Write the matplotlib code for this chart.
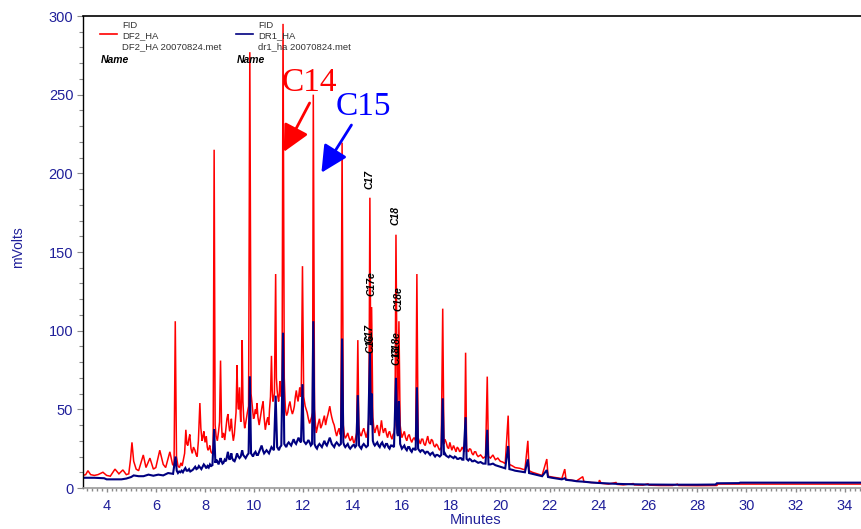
import matplotlib
matplotlib.use("Agg")
import matplotlib.pyplot as plt
from matplotlib.ticker import MultipleLocator
from matplotlib.lines import Line2D

plt.rcParams['font.family'] = ['Liberation Sans', 'DejaVu Sans']

# ---- chromatogram traces (retention time in minutes, signal in mV) ----
# DF2_HA (red)
red_t = [3.04, 3.15, 3.24, 3.35, 3.5, 3.65, 3.85, 4.0, 4.15, 4.34, 4.5, 4.66, 4.8, 4.9, 4.97,
         5.03, 5.1, 5.2, 5.3, 5.49, 5.6, 5.76, 5.9, 6.0, 6.16, 6.3, 6.4, 6.57, 6.68, 6.74,
         6.79, 6.84, 6.9, 6.96, 7.02, 7.07, 7.12, 7.17, 7.22, 7.26, 7.3, 7.34, 7.38, 7.43,
         7.48, 7.53, 7.59, 7.64, 7.68, 7.73, 7.79, 7.83, 7.88, 7.92, 7.95, 8.0, 8.05, 8.09,
         8.12, 8.16, 8.19, 8.24, 8.28, 8.33, 8.37, 8.41, 8.45, 8.5, 8.55, 8.59, 8.63, 8.67,
         8.7, 8.75, 8.8, 8.85, 8.89, 8.93, 8.97, 9.0, 9.04, 9.07, 9.11, 9.15, 9.19, 9.22,
         9.26, 9.30, 9.33, 9.36, 9.40, 9.43, 9.45, 9.48, 9.51, 9.54, 9.57, 9.61, 9.65, 9.69,
         9.72, 9.77, 9.82, 9.87, 9.9, 9.93, 9.97, 10.0, 10.04, 10.08, 10.11, 10.15, 10.2,
         10.24, 10.28, 10.32, 10.36, 10.4, 10.45, 10.5, 10.55, 10.59, 10.62, 10.66, 10.70,
         10.73, 10.76, 10.79, 10.82, 10.87, 10.9, 10.93, 10.96, 10.99, 11.02, 11.04, 11.07,
         11.1, 11.13, 11.17, 11.22, 11.25, 11.27, 11.31, 11.36, 11.4, 11.45, 11.5, 11.55,
         11.59, 11.63, 11.67, 11.71, 11.74, 11.78, 11.82, 11.85, 11.88, 11.91, 11.96, 12.01,
         12.04, 12.07, 12.11, 12.15, 12.2, 12.25, 12.29, 12.33, 12.37, 12.40, 12.45, 12.48,
         12.52, 12.56, 12.6, 12.65, 12.7, 12.75, 12.8, 12.85, 12.9, 12.95, 13.0, 13.04, 13.07,
         13.11, 13.15, 13.2, 13.25, 13.3, 13.35, 13.4, 13.45, 13.49, 13.52, 13.57, 13.62,
         13.66, 13.7, 13.75, 13.8, 13.85, 13.9, 13.94, 13.98, 14.02, 14.05, 14.09, 14.12,
         14.16, 14.21, 14.25, 14.27, 14.31, 14.35, 14.4, 14.45, 14.5, 14.55, 14.58, 14.62,
         14.66, 14.70, 14.74, 14.77, 14.82, 14.86, 14.9, 14.95, 15.0, 15.04, 15.08, 15.12,
         15.17, 15.21, 15.25, 15.29, 15.33, 15.38, 15.42, 15.46, 15.5, 15.55, 15.6, 15.64,
         15.68, 15.72, 15.76, 15.81, 15.84, 15.88, 15.93, 15.97, 16.0, 16.05, 16.1, 16.15,
         16.2, 16.25, 16.3, 16.35, 16.4, 16.45, 16.5, 16.56, 16.61, 16.66, 16.7, 16.75, 16.8,
         16.85, 16.9, 16.95, 17.0, 17.05, 17.1, 17.15, 17.2, 17.25, 17.3, 17.35, 17.4, 17.45,
         17.5, 17.54, 17.60, 17.66, 17.71, 17.75, 17.8, 17.85, 17.9, 17.95, 18.03, 18.1, 18.15,
         18.2, 18.25, 18.3, 18.35, 18.4, 18.45, 18.5, 18.55, 18.59, 18.63, 18.7, 18.75, 18.8,
         18.85, 18.9, 18.95, 19.0, 19.05, 19.1, 19.2, 19.3, 19.4, 19.47, 19.52, 19.6, 19.7,
         19.8, 19.9, 20.0, 20.1, 20.2, 20.32, 20.37, 20.5, 20.6, 20.8, 21.0, 21.12, 21.17,
         21.3, 21.5, 21.7, 21.89, 21.94, 22.1, 22.3, 22.5, 22.62, 22.67, 22.9, 23.1, 23.35,
         23.4, 23.7, 24.0, 24.03, 24.1, 24.4, 24.7, 24.75, 25.0, 25.4, 25.45, 25.8, 26.0,
         26.05, 26.5, 27.0, 27.2, 27.25, 27.8, 28.0, 28.8, 28.85, 29.7, 34.66]
red_mv = [8.0, 8.5, 11, 8.5, 8, 8.5, 10, 8, 7.5, 12, 9, 11.5, 8.5, 9, 18,
          29, 17, 12, 11, 21, 13, 19, 12, 13, 24, 15, 13, 23, 15, 14,
          106, 20, 14, 13, 16, 14, 18, 22, 37, 28, 27, 31, 34, 25,
          22, 26, 24, 21, 20, 30, 54, 38, 30, 33, 36, 29, 33, 26,
          24, 25, 27, 23, 22, 24, 215, 40, 33, 30, 36, 42, 81, 40,
          32, 35, 30.5, 38, 44, 47, 40, 36, 39, 44, 35, 30, 34, 40,
          48, 78, 55, 50, 64, 48, 42, 55, 94, 55, 45, 38, 41, 45,
          48, 52, 277, 60, 55, 50, 44, 45, 50, 47, 54, 45, 40,
          44, 48, 52, 55, 45, 37, 42, 45, 40, 50, 58, 84,
          62, 55, 57, 60, 136, 70, 62, 58, 55, 60, 68, 64,
          58, 62, 295, 70, 56, 50, 46, 48, 52, 55, 50, 47,
          49, 52, 58, 62, 58, 55, 60, 64, 58, 60, 141, 58,
          55, 52, 50, 48, 44, 41, 43, 45, 48, 250, 50, 42,
          35, 38, 41, 44, 38, 40, 43, 46, 40, 44, 47, 50, 52,
          48, 45, 42, 40, 36, 33, 36, 38, 34, 35, 219.5, 40,
          34, 31.6, 33, 35, 32, 30, 31, 33, 30, 28.6, 30, 32,
          35, 94, 40, 36, 34, 33, 36, 38, 35, 32, 34, 37,
          45, 184.5, 60, 115, 45, 38, 35, 38, 40, 36, 33, 37,
          43, 38, 35, 37, 38, 34, 32, 35, 36, 33, 31, 34,
          35, 40, 161, 55, 50, 106, 40, 35, 32, 34, 36, 32,
          30, 33, 34, 31, 29, 31, 32, 30, 136, 32, 30, 28, 31,
          31, 28, 27, 30, 33, 29, 28, 31, 30, 27, 26, 28, 27,
          25, 24, 26, 114, 28, 31, 29, 26, 25, 29, 24, 27, 25,
          23, 26, 25, 23, 24, 26, 24.5, 23, 86, 25, 23, 25, 24.5,
          22, 21, 23, 23, 21, 20, 21, 19, 20, 70.8, 20, 19, 21,
          18, 19, 17, 16.5, 15.5, 46, 15, 14, 13, 12.5, 11.5, 30, 11,
          10, 9, 8, 18.4, 7.5, 7, 6.5, 6, 12, 5.5, 5, 4.5, 7.2,
          4, 3.5, 3.3, 5, 3, 2.5, 3.5, 2.3, 2, 2.8, 2, 1.8, 2.6,
          1.8, 1.6, 1.6, 2.4, 1.6, 1.5, 1.5, 1.6, 2.5, 2.5, 2.5]

# DR1_HA (navy)
blue_t = [3.04, 3.5, 3.9, 4.0, 4.6, 4.8, 5.0, 5.1, 5.3, 5.5, 5.7, 5.9, 6.1, 6.3, 6.5, 6.7,
          6.8, 6.85, 6.9, 6.95, 7.0, 7.05, 7.1, 7.15, 7.2, 7.25, 7.3, 7.35, 7.4, 7.45, 7.5,
          7.55, 7.6, 7.65, 7.7, 7.75, 7.8, 7.85, 7.9, 7.95, 8.0, 8.05, 8.1, 8.15, 8.2, 8.25,
          8.3, 8.37, 8.42, 8.46, 8.5, 8.55, 8.59, 8.63, 8.67, 8.71, 8.75, 8.8, 8.85, 8.89,
          8.93, 8.97, 9.0, 9.04, 9.07, 9.1, 9.15, 9.2, 9.25, 9.30, 9.35, 9.4, 9.45, 9.51,
          9.55, 9.6, 9.65, 9.72, 9.77, 9.82, 9.87, 9.91, 9.95, 10.0, 10.05, 10.1, 10.15, 10.2,
          10.25, 10.3, 10.35, 10.4, 10.45, 10.5, 10.55, 10.6, 10.65, 10.7, 10.75, 10.8, 10.87,
          10.93, 10.97, 11.0, 11.05, 11.1, 11.17, 11.22, 11.26, 11.3, 11.35, 11.4, 11.45, 11.5,
          11.55, 11.6, 11.65, 11.7, 11.75, 11.8, 11.85, 11.9, 11.96, 12.01, 12.05, 12.1, 12.15,
          12.2, 12.25, 12.3, 12.35, 12.40, 12.45, 12.5, 12.55, 12.6, 12.65, 12.7, 12.75, 12.8,
          12.85, 12.9, 12.95, 13.0, 13.07, 13.11, 13.15, 13.2, 13.25, 13.3, 13.35, 13.4, 13.45,
          13.52, 13.57, 13.62, 13.66, 13.7, 13.75, 13.8, 13.85, 13.9, 13.95, 14.0, 14.05, 14.1,
          14.15, 14.21, 14.26, 14.3, 14.35, 14.4, 14.45, 14.5, 14.55, 14.62, 14.70, 14.74,
          14.77, 14.82, 14.86, 14.9, 14.95, 15.0, 15.05, 15.1, 15.15, 15.2, 15.25, 15.3, 15.35,
          15.4, 15.45, 15.5, 15.55, 15.6, 15.68, 15.76, 15.81, 15.84, 15.88, 15.93, 16.0, 16.05,
          16.1, 16.15, 16.2, 16.25, 16.3, 16.35, 16.4, 16.45, 16.5, 16.56, 16.61, 16.66, 16.7,
          16.75, 16.8, 16.85, 16.9, 16.95, 17.0, 17.05, 17.1, 17.15, 17.2, 17.25, 17.3, 17.35,
          17.4, 17.45, 17.54, 17.6, 17.66, 17.71, 17.75, 17.8, 17.85, 17.9, 17.95, 18.0, 18.05,
          18.1, 18.15, 18.2, 18.25, 18.3, 18.35, 18.4, 18.45, 18.5, 18.59, 18.63, 18.7, 18.75,
          18.8, 18.85, 18.9, 18.95, 19.0, 19.1, 19.2, 19.3, 19.4, 19.47, 19.52, 19.6, 19.7, 19.8,
          19.9, 20.0, 20.1, 20.2, 20.32, 20.37, 20.5, 20.6, 20.8, 21.0, 21.12, 21.17, 21.3,
          21.5, 21.7, 21.89, 21.94, 22.1, 22.3, 22.5, 22.62, 22.67, 22.9, 23.1, 23.4, 23.7,
          24.0, 24.5, 25.0, 26.0, 27.0, 28.0, 28.75, 28.8, 29.7, 29.75, 34.66]
blue_mv = [6.5, 6.5, 6.2, 5.5, 5.5, 6, 7, 8, 7.5, 7.5, 8.5, 7.8, 8.5, 8, 9.5, 9,
           20, 11, 9.5, 10.5, 10, 11, 10, 11.5, 12.7, 11, 11, 12, 10.5, 11, 11.5,
           12.5, 13.5, 12, 12.5, 14, 13, 12, 13.5, 15, 14, 12.5, 14, 13, 15, 14,
           14.5, 37.5, 16, 18, 17, 15, 17, 19, 17, 15.5, 16, 18, 17, 20,
           23, 19, 18, 20, 22, 19, 17.5, 17, 19, 22, 20, 19, 20, 24,
           21, 20, 19, 21, 22, 71, 22, 21, 20, 22, 23, 21, 21, 23,
           25, 27, 24, 22, 23, 24, 23, 22, 24, 26, 25, 24, 58.7,
           26, 25, 24, 26, 27, 98.7, 28, 27, 26, 28, 29, 28, 27,
           29, 31, 29, 28, 30, 32, 30, 29, 66, 30, 29, 28, 29,
           30.5, 29, 27, 28, 106, 28, 26, 25, 27, 28, 27, 26, 28,
           30, 28, 27, 29, 32, 30, 28, 27, 26, 28, 29, 28, 27,
           28, 95, 29, 27, 26, 27, 28, 26, 25, 26, 27, 27.5, 26,
           27, 59, 27, 26, 25, 27, 28, 27, 26, 27, 86, 40,
           60, 30, 28, 27, 28, 29, 27, 26, 28, 29, 27, 26, 28,
           28, 26, 25, 27, 27, 26, 70, 35, 33, 55, 28, 25, 26,
           27, 25, 24, 26, 26, 24, 23, 25, 25, 24, 64, 25, 24,
           23, 24, 24, 23, 22, 23, 23, 22, 21, 22, 22.5, 21, 20,
           21, 21, 20, 21, 57, 21, 22, 20.5, 20, 19.5, 20.5, 20, 19.5,
           19, 20, 19.5, 18.5, 18.5, 19, 19, 18, 18, 45, 18.5, 17.5, 18.5,
           18, 17, 17, 17.5, 17, 16, 16.5, 15.5, 15.5, 37, 15, 15, 15.5, 14.5,
           14, 13.5, 13, 12.5, 26.7, 12, 11.5, 11, 10.5, 10, 18.2, 9.5, 9,
           8.3, 7.5, 11.4, 7, 6.5, 6, 5.5, 6.2, 5.2, 4.8, 4.3, 4, 3.5,
           3.2, 2.8, 2.5, 2.2, 2.1, 2.1, 2.2, 3, 3.1, 3.4, 3.4]

# ---- axis ticks ----
x_major = [4, 6, 8, 10, 12, 14, 16, 18, 20, 22, 24, 26, 28, 30, 32, 34]
y_major = [0, 50, 100, 150, 200, 250, 300]

# ---- peak annotations ----
peak_labels = ["C17", "C18", "C17e", "C18e", "C17", "C16", "C18e", "C18"]
peak_label_t = [14.69, 15.75, 14.77, 15.87, 14.70, 14.72, 15.78, 15.80]
peak_label_mv = [195.8, 172.9, 129.7, 120.1, 98.5, 92, 92, 84]

W, H = 861, 529
NAVY = '#20209a'

fig = plt.figure(figsize=(W / 100, H / 100), dpi=100)
ax = fig.add_axes([83 / W, 1 - 488 / H, (W - 83) / W, (488 - 16) / H])

ax.plot(red_t, red_mv, color='#ff0000', lw=1.1, solid_joinstyle='miter')
ax.plot(blue_t, blue_mv, color='#000080', lw=1.5, solid_joinstyle='miter')

ax.set_xlim(3.04, 34.66)
ax.set_ylim(0, 300)

ax.xaxis.set_major_locator(MultipleLocator(2))
ax.xaxis.set_minor_locator(MultipleLocator(0.2))
ax.yaxis.set_major_locator(MultipleLocator(50))
ax.yaxis.set_minor_locator(MultipleLocator(10))
ax.set_xticks(x_major)
ax.set_yticks(y_major)

ax.tick_params(axis='both', which='both', direction='out', colors='#8a8a8a',
               labelcolor=NAVY, labelsize=10.5)
ax.tick_params(axis='y', which='major', length=4, width=0.8, pad=3)
ax.tick_params(axis='y', which='minor', length=3, width=0.8)
ax.tick_params(axis='x', which='major', length=3, width=1.0, pad=5)
ax.tick_params(axis='x', which='minor', length=2, width=1.0)

ax.spines['right'].set_visible(False)
ax.spines['top'].set_color('black')
ax.spines['top'].set_linewidth(1.2)
ax.spines['left'].set_color('black')
ax.spines['left'].set_linewidth(1.0)
ax.spines['bottom'].set_color('#9a9a9a')
ax.spines['bottom'].set_linewidth(1.2)

fig.text(18 / W, 1 - 247 / H, 'mVolts', rotation=90, color=NAVY, fontsize=10,
         ha='center', va='center')
fig.text(476 / W, 1 - 520 / H, 'Minutes', color=NAVY, fontsize=10.5,
         ha='center', va='center')

# trace legend blocks in the upper left
for x0, col, lines in [(100, '#ff0000', ['FID', 'DF2_HA', 'DF2_HA 20070824.met']),
                       (236, '#000080', ['FID', 'DR1_HA', 'dr1_ha 20070824.met'])]:
    fig.add_artist(Line2D([x0 / W, (x0 + 17) / W], [1 - 34 / H, 1 - 34 / H],
                          color=col, lw=1.2))
    for i, s in enumerate(lines):
        fig.text((x0 + 22) / W, 1 - (25 + 11 * i) / H, s, fontsize=6.8,
                 color='#333333', ha='left', va='center')
    fig.text((x0 + 1) / W, 1 - 60 / H, 'Name', fontsize=7.5, fontweight='bold',
             fontstyle='italic', color='black', ha='left', va='center')

# rotated peak names
for name, t, v in zip(peak_labels, peak_label_t, peak_label_mv):
    ax.text(t, v, name, rotation=90, fontsize=7.5, fontweight='bold',
            fontstyle='italic', color='black', ha='center', va='center')

# highlighted compounds with arrows
ax.text(12.25, 257.4, 'C14', color='#ff0000', fontsize=24,
        family=['Liberation Serif', 'DejaVu Serif'], ha='center', va='center')
ax.text(14.45, 242.2, 'C15', color='#0000ff', fontsize=24,
        family=['Liberation Serif', 'DejaVu Serif'], ha='center', va='center')
ax.annotate('', xy=(11.20, 213.6), xytext=(12.25, 244.7),
            arrowprops=dict(arrowstyle='-|>,head_length=0.9,head_width=0.45',
                            color='#ff0000', lw=2.0, shrinkA=0, shrinkB=0,
                            mutation_scale=18))
ax.annotate('', xy=(12.73, 200.4), xytext=(13.95, 230.7),
            arrowprops=dict(arrowstyle='-|>,head_length=0.9,head_width=0.45',
                            color='#0000ff', lw=2.0, shrinkA=0, shrinkB=0,
                            mutation_scale=18))

fig.savefig('out.png', dpi=100)
